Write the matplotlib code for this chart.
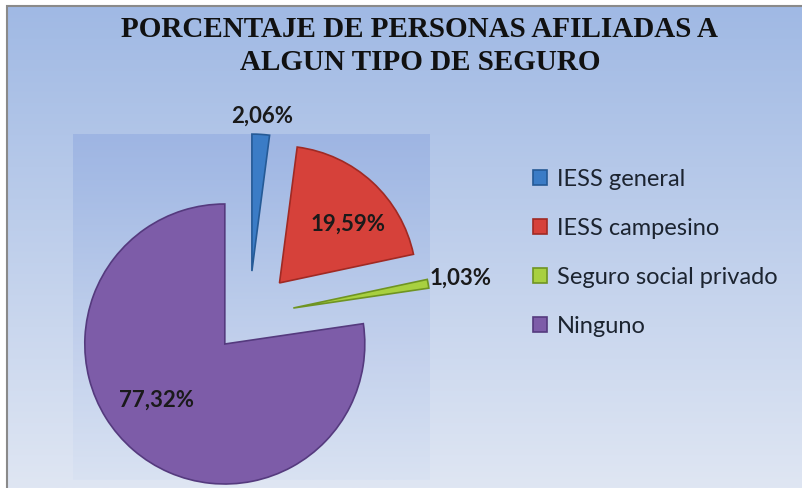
import numpy as np
import matplotlib
matplotlib.use('Agg')
import matplotlib.pyplot as plt
from matplotlib.patches import Rectangle
from matplotlib.colors import LinearSegmentedColormap

title = 'PORCENTAJE DE PERSONAS AFILIADAS A\nALGUN TIPO DE SEGURO'
categories = ['IESS general', 'IESS campesino', 'Seguro social privado', 'Ninguno']
values = [2.06, 19.59, 1.03, 77.32]
labels = ['2,06%', '19,59%', '1,03%', '77,32%']
colors = ['#3b7cc6', '#d6413a', '#a8d040', '#7d5ca8']
edges = ['#255a96', '#a02a24', '#6f9422', '#553a7e']
label_dist = [1.13, 0.66, 1.24, 0.63]
label_turn = [0, -7, 0, -10]

W, H = 803, 488
fig = plt.figure(figsize=(W / 100, H / 100), dpi=100)
fig.patch.set_facecolor('white')

# everything drawn in pixel coordinates
ax = fig.add_axes([0, 0, 1, 1])

# background gradient
bg = LinearSegmentedColormap.from_list('bg', ['#dfe6f3', '#a0b9e4'])
grad = np.linspace(0, 1, 256).reshape(-1, 1)
ax.imshow(grad, cmap=bg, extent=(7, W, 0, H - 6), origin='lower', aspect='auto', zorder=0)
ax.add_patch(Rectangle((7, -2), W, H - 4, fill=False, edgecolor='#8a8a8a', lw=1.5, zorder=1))

# plot area
pa = LinearSegmentedColormap.from_list('pa', ['#d9e2f2', '#9cb4e3'])
ax.imshow(grad, cmap=pa, extent=(73, 430, 8, H - 134), origin='lower', aspect='auto', zorder=1, alpha=0.9)

wedges, _ = ax.pie(values, colors=colors, startangle=90, counterclock=False,
                   center=(249, H - 316), radius=137, explode=[45, 45, 45, 37],
                   wedgeprops=dict(linewidth=1.2), frame=True)
wedges[3].set_radius(140)
for w, ec in zip(wedges, edges):
    w.set_edgecolor(ec)
    w.set_zorder(3)
ax.set_xlim(0, W)
ax.set_ylim(0, H)
ax.set_aspect('equal')
ax.axis('off')

for w, lab, d, t in zip(wedges, labels, label_dist, label_turn):
    th = np.deg2rad((w.theta1 + w.theta2) / 2 + t)
    cx, cy = w.center
    ax.text(cx + d * w.r * np.cos(th), cy + d * w.r * np.sin(th), lab,
            ha='center', va='center', fontsize=16, fontweight='bold',
            family='Lato', color='#1a1a1a', zorder=5)

ax.text(420, H - 46, title, ha='center', va='center', fontsize=21,
        fontweight='bold', family='Liberation Serif', linespacing=1.3, color='#111111', zorder=5)

leg = ax.legend(wedges, categories, loc='upper left', bbox_to_anchor=(533 / W, 1 - 169 / H),
                frameon=False, prop=dict(family='Lato', size=17), handlelength=0.6,
                handleheight=0.6, handletextpad=0.4, labelspacing=1.18,
                borderpad=0, borderaxespad=0)
for t in leg.get_texts():
    t.set_color('#1c2430')

fig.savefig('out.png', dpi=100)
